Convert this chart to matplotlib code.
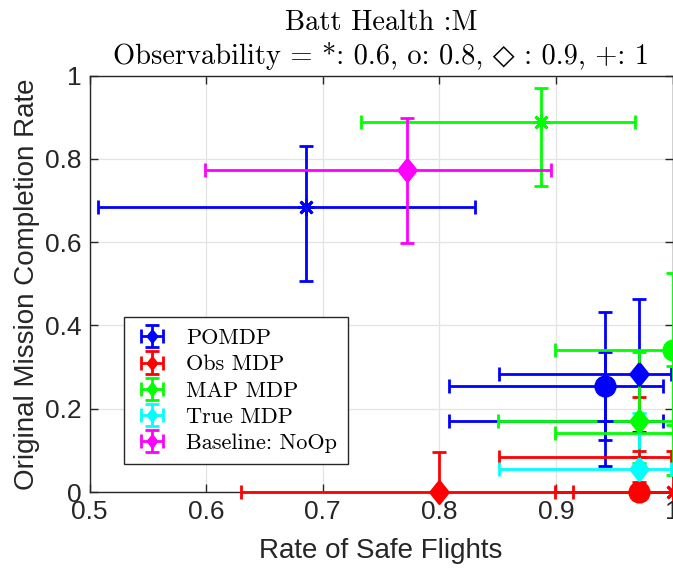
import numpy as np
import matplotlib
matplotlib.use('Agg')
import matplotlib.pyplot as plt
from matplotlib.ticker import FuncFormatter

# observability levels: *: 0.6, o: 0.8, diamond: 0.9, +: 1
obs_levels = ['0.6', '0.8', '0.9', '1']
methods = ['POMDP', 'Obs MDP', 'MAP MDP', 'True MDP', 'Baseline: NoOp']
colors = ['#0000ff', '#ff0000', '#00ff00', '#00ffff', '#ff00ff']
nan = np.nan

# POMDP
pomdp_x = [0.686, 0.942, 0.971, 0.942]
pomdp_y = [0.684, 0.255, 0.283, 0.170]
pomdp_xneg = [0.179, 0.134, 0.120, 0.134]
pomdp_xpos = [0.145, 0.050, 0.028, 0.050]
pomdp_yneg = [0.177, 0.192, 0.138, 0.045]
pomdp_ypos = [0.147, 0.178, 0.180, 0.167]

# Obs MDP
obs_x = [1.0, 0.971, 0.800, 0.971]
obs_y = [0.0, 0.0, 0.0, 0.083]
obs_xneg = [0.101, 0.056, 0.170, 0.120]
obs_xpos = [0.030, 0.030, 0.170, 0.028]
obs_yneg = [0.0, 0.0, 0.0, 0.060]
obs_ypos = [0.098, 0.098, 0.097, 0.146]

# MAP MDP
map_x = [0.887, 1.0, 0.971, 1.0]
map_y = [0.888, 0.342, 0.170, 0.141]
map_xneg = [0.154, 0.101, 0.121, 0.101]
map_xpos = [0.081, 0.030, 0.030, 0.030]
map_yneg = [0.153, 0.180, 0.100, 0.100]
map_ypos = [0.081, 0.183, 0.167, 0.162]

# True MDP
true_x = [nan, nan, 0.971, nan]
true_y = [nan, nan, 0.055, nan]
true_xneg = [nan, nan, 0.120, nan]
true_xpos = [nan, nan, 0.028, nan]
true_yneg = [nan, nan, 0.050, nan]
true_ypos = [nan, nan, 0.135, nan]

# Baseline: NoOp
base_x = [nan, nan, 0.772, nan]
base_y = [nan, nan, 0.773, nan]
base_xneg = [nan, nan, 0.173, nan]
base_xpos = [nan, nan, 0.124, nan]
base_yneg = [nan, nan, 0.175, nan]
base_ypos = [nan, nan, 0.126, nan]

series = [
    (pomdp_x, pomdp_y, pomdp_xneg, pomdp_xpos, pomdp_yneg, pomdp_ypos),
    (obs_x, obs_y, obs_xneg, obs_xpos, obs_yneg, obs_ypos),
    (map_x, map_y, map_xneg, map_xpos, map_yneg, map_ypos),
    (true_x, true_y, true_xneg, true_xpos, true_yneg, true_ypos),
    (base_x, base_y, base_xneg, base_xpos, base_yneg, base_ypos),
]

diamond = [(0, 1), (0.8, 0), (0, -1), (-0.8, 0), (0, 1)]
markers = [(8, 2, 0), 'o', diamond, '+']
msizes = [12, 14, 16, 12]

serif = ['cmr10', 'DejaVu Sans']
plt.rcParams['font.family'] = ['Liberation Sans', 'DejaVu Sans']
plt.rcParams['axes.formatter.use_mathtext'] = True

fig = plt.figure(figsize=(6.73, 5.69), dpi=100)
ax = fig.add_axes([0.133, 0.1353, 0.8663, 0.732])

legend_handles = []
for (xs, ys, xn, xp, yn, yp), c in zip(series, colors):
    handle = None
    for i in range(len(obs_levels)):
        if np.isnan(xs[i]):
            continue
        eb = ax.errorbar([xs[i]], [ys[i]],
                         xerr=[[xn[i]], [xp[i]]], yerr=[[yn[i]], [yp[i]]],
                         linestyle='none',
                         marker=markers[i], markersize=msizes[i],
                         color=c, mfc=c, mec=c, mew=2,
                         elinewidth=2, capsize=5, capthick=2, zorder=3)
        for art in (eb.lines[0],) + tuple(eb.lines[1]) + tuple(eb.lines[2]):
            if art is not None:
                art.set_clip_on(False)
        if i == 2:
            handle = eb
    legend_handles.append(handle)

ax.set_xlim(0.5, 1.0)
ax.set_ylim(0, 1)
ax.set_xticks([0.5, 0.6, 0.7, 0.8, 0.9, 1.0])
ax.set_yticks([0, 0.2, 0.4, 0.6, 0.8, 1.0])
fmt = FuncFormatter(lambda v, p: '%g' % round(v, 2))
ax.xaxis.set_major_formatter(fmt)
ax.yaxis.set_major_formatter(fmt)

ax.grid(True, color='#e3e3e3', linewidth=0.9)
ax.set_axisbelow(True)
ax.tick_params(direction='in', length=6, width=1, top=True, right=True,
               labelsize=19, colors='#262626', pad=6)
for s in ax.spines.values():
    s.set_color('#262626')
    s.set_linewidth(1)

ax.set_xlabel('Rate of Safe Flights', fontsize=20, color='#262626', labelpad=10)
ax.set_ylabel('Original Mission Completion Rate', fontsize=20, color='#262626', labelpad=3)
ax.set_title('Batt Health :M\nObservability = *: 0.6, o: 0.8, \u25C7 : 0.9, +: 1',
             family=serif, fontsize=20.5, pad=8, linespacing=1.3)

leg = ax.legend(legend_handles, methods, loc='lower left',
                bbox_to_anchor=(0.059, 0.067), borderaxespad=0,
                prop={'family': serif, 'size': 16},
                frameon=True, fancybox=False, framealpha=1, edgecolor='#262626',
                borderpad=0.5, labelspacing=0.3, handlelength=1.5,
                handletextpad=0.8, markerscale=0.5)
leg.set_zorder(5)

fig.savefig('out.png', dpi=100)
